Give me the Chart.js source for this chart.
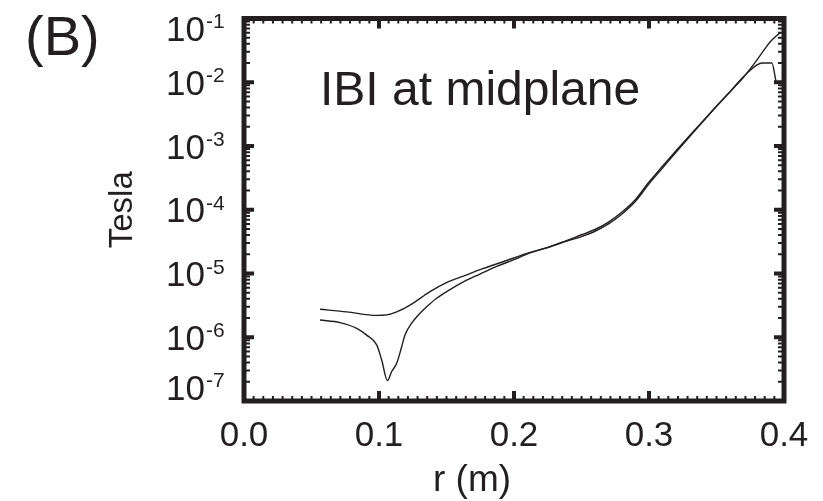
<!DOCTYPE html>
<html>
<head>
<meta charset="utf-8">
<script src="https://cdn.jsdelivr.net/npm/chart.js@4.4.1/dist/chart.umd.min.js"></script>
<style>
  html, body { margin: 0; padding: 0; background: #fff; }
  #wrap { width: 823px; height: 501px; position: relative; }
</style>
</head>
<body>
<div id="wrap"><canvas id="fieldChart"></canvas></div>
<script>
// radius (m) and |B| (Tesla), trace without the dip
const rUpper = [0.0563, 0.0761, 0.0983, 0.1057, 0.1131, 0.123, 0.1378, 0.150, 0.1625, 0.1773, 0.192, 0.2119, 0.225, 0.236, 0.25, 0.26, 0.27, 0.28, 0.29, 0.30, 0.31, 0.32, 0.33, 0.34, 0.35, 0.36, 0.37, 0.375, 0.38, 0.385, 0.39, 0.397];
const bUpper = [2.75e-6, 2.5e-6, 2.2e-6, 2.24e-6, 2.5e-6, 3.2e-6, 5.2e-6, 7.2e-6, 9.1e-6, 1.2e-5, 1.53e-5, 2.14e-5, 2.57e-5, 3.09e-5, 3.8e-5, 4.6e-5, 6.0e-5, 8.6e-5, 1.36e-4, 2.55e-4, 4.5e-4, 8.0e-4, 1.4e-3, 2.42e-3, 4.2e-3, 7.1e-3, 1.2e-2, 1.62e-2, 2.24e-2, 3.16e-2, 4.37e-2, 6.0e-2];

// trace with the dip near r = 0.1 m
const rLower = [0.0563, 0.0711, 0.0835, 0.0909, 0.0983, 0.102, 0.1062, 0.1094, 0.1131, 0.1168, 0.1193, 0.1242, 0.128, 0.1353, 0.1427, 0.1526, 0.1625, 0.1748, 0.1872, 0.1995, 0.2119, 0.225, 0.236, 0.25, 0.26, 0.27, 0.28, 0.29, 0.30, 0.31, 0.32, 0.33, 0.34, 0.35, 0.36, 0.372, 0.384, 0.391, 0.394];
const bLower = [1.86e-6, 1.7e-6, 1.38e-6, 1.08e-6, 7.6e-7, 4.4e-7, 2.1e-7, 2.9e-7, 3.9e-7, 7.1e-7, 1.09e-6, 1.66e-6, 2.1e-6, 3.0e-6, 4.1e-6, 5.6e-6, 7.4e-6, 9.8e-6, 1.29e-5, 1.63e-5, 2.1e-5, 2.55e-5, 3.1e-5, 4.05e-5, 4.9e-5, 6.4e-5, 9.2e-5, 1.45e-4, 2.72e-4, 4.8e-4, 8.4e-4, 1.45e-3, 2.48e-3, 4.2e-3, 7.1e-3, 1.35e-2, 2.0e-2, 2.0e-2, 1.05e-2];

const xTicks = [0.0, 0.1, 0.2, 0.3, 0.4];
const yTickExps = [-1, -2, -3, -4, -5, -6, -7];

const ink = '#231f20';
const family = "'Liberation Sans', Arial, Helvetica, sans-serif";

function toPoints(rs, bs) {
  return rs.map((r, i) => ({ x: r, y: bs[i] }));
}

// frame with inward ticks, y labels with superscripts, extra text
const framePlugin = {
  id: 'idlFrame',
  afterDraw(chart) {
    const ctx = chart.ctx;
    const area = chart.chartArea;
    const xs = chart.scales.x;
    const ys = chart.scales.y;
    ctx.save();
    ctx.strokeStyle = ink;
    ctx.fillStyle = ink;
    ctx.lineCap = 'butt';

    // minor x ticks (dense, look like a dashed inner edge)
    ctx.lineWidth = 2;
    const minorStep = 0.1 / 14;
    for (let v = minorStep; v < 0.4 - 1e-9; v += minorStep) {
      const px = xs.getPixelForValue(v);
      ctx.beginPath();
      ctx.moveTo(px, area.bottom); ctx.lineTo(px, area.bottom - 5);
      ctx.moveTo(px, area.top); ctx.lineTo(px, area.top + 5);
      ctx.stroke();
    }
    // minor y ticks
    yTickExps.forEach(e => {
      if (e === -1) return;
      for (let k = 2; k <= 9; k++) {
        const py = ys.getPixelForValue(k * Math.pow(10, e));
        ctx.beginPath();
        ctx.moveTo(area.left, py); ctx.lineTo(area.left + 6, py);
        ctx.moveTo(area.right, py); ctx.lineTo(area.right - 6, py);
        ctx.stroke();
      }
    });
    // major ticks
    ctx.lineWidth = 4;
    xTicks.forEach(v => {
      const px = xs.getPixelForValue(v);
      ctx.beginPath();
      ctx.moveTo(px, area.bottom); ctx.lineTo(px, area.bottom - 10);
      ctx.moveTo(px, area.top); ctx.lineTo(px, area.top + 10);
      ctx.stroke();
    });
    yTickExps.forEach(e => {
      const py = ys.getPixelForValue(Math.pow(10, e));
      ctx.beginPath();
      ctx.moveTo(area.left, py); ctx.lineTo(area.left + 10, py);
      ctx.moveTo(area.right, py); ctx.lineTo(area.right - 10, py);
      ctx.stroke();
    });
    // frame
    ctx.lineWidth = 5;
    ctx.lineJoin = 'miter';
    ctx.strokeRect(area.left, area.top, area.right - area.left, area.bottom - area.top);

    // y tick labels 10^n
    yTickExps.forEach(e => {
      let cy = ys.getPixelForValue(Math.pow(10, e)) + 3;
      cy = Math.min(Math.max(cy, 31), 390);
      ctx.font = '35px ' + family;
      ctx.textAlign = 'right';
      ctx.textBaseline = 'middle';
      ctx.fillText('10', 205, cy);
      ctx.font = '21px ' + family;
      ctx.textAlign = 'left';
      ctx.textBaseline = 'alphabetic';
      ctx.fillText('-' + Math.abs(e), 206, cy - 3);
    });

    // x axis title
    ctx.font = '37px ' + family;
    ctx.textAlign = 'center';
    ctx.textBaseline = 'alphabetic';
    ctx.fillText('r (m)', 472, 491);

    // panel label and annotation
    ctx.textAlign = 'left';
    ctx.font = '56px ' + family;
    ctx.fillText('(B)', 25, 55);
    ctx.font = '48px ' + family;
    ctx.fillText('IBI at midplane', 320, 105);
    ctx.restore();
  }
};

const lineStyle = {
  showLine: true,
  borderColor: ink,
  borderWidth: 1.4,
  pointRadius: 0,
  cubicInterpolationMode: 'monotone',
  fill: false
};

new Chart(document.getElementById('fieldChart'), {
  type: 'scatter',
  data: {
    datasets: [
      Object.assign({ label: 'upper', data: toPoints(rUpper, bUpper) }, lineStyle),
      Object.assign({ label: 'lower', data: toPoints(rLower, bLower) }, lineStyle)
    ]
  },
  options: {
    responsive: true,
    maintainAspectRatio: false,
    animation: false,
    layout: { padding: { left: 0, right: 39, top: 18.5, bottom: 0 } },
    plugins: {
      legend: { display: false },
      tooltip: { enabled: false }
    },
    scales: {
      x: {
        type: 'linear',
        position: 'bottom',
        min: 0,
        max: 0.4,
        grid: { display: false, drawTicks: false, tickLength: 0 },
        border: { display: false },
        afterBuildTicks: s => { s.ticks = xTicks.map(v => ({ value: v })); },
        afterFit: s => { s.height = 100; },
        ticks: {
          color: ink,
          font: { family: family, size: 35 },
          padding: 14,
          maxRotation: 0,
          autoSkip: false,
          callback: v => Number(v).toFixed(1)
        }
      },
      y: {
        type: 'logarithmic',
        position: 'left',
        min: 1e-7,
        max: 1e-1,
        grid: { display: false, drawTicks: false, tickLength: 0 },
        border: { display: false },
        ticks: { display: false },
        afterFit: s => { s.width = 244; },
        title: {
          display: true,
          text: 'Tesla',
          color: ink,
          font: { family: family, size: 33 },
          padding: { top: 103, bottom: 0 }
        }
      }
    }
  },
  plugins: [framePlugin]
});
</script>
</body>
</html>
